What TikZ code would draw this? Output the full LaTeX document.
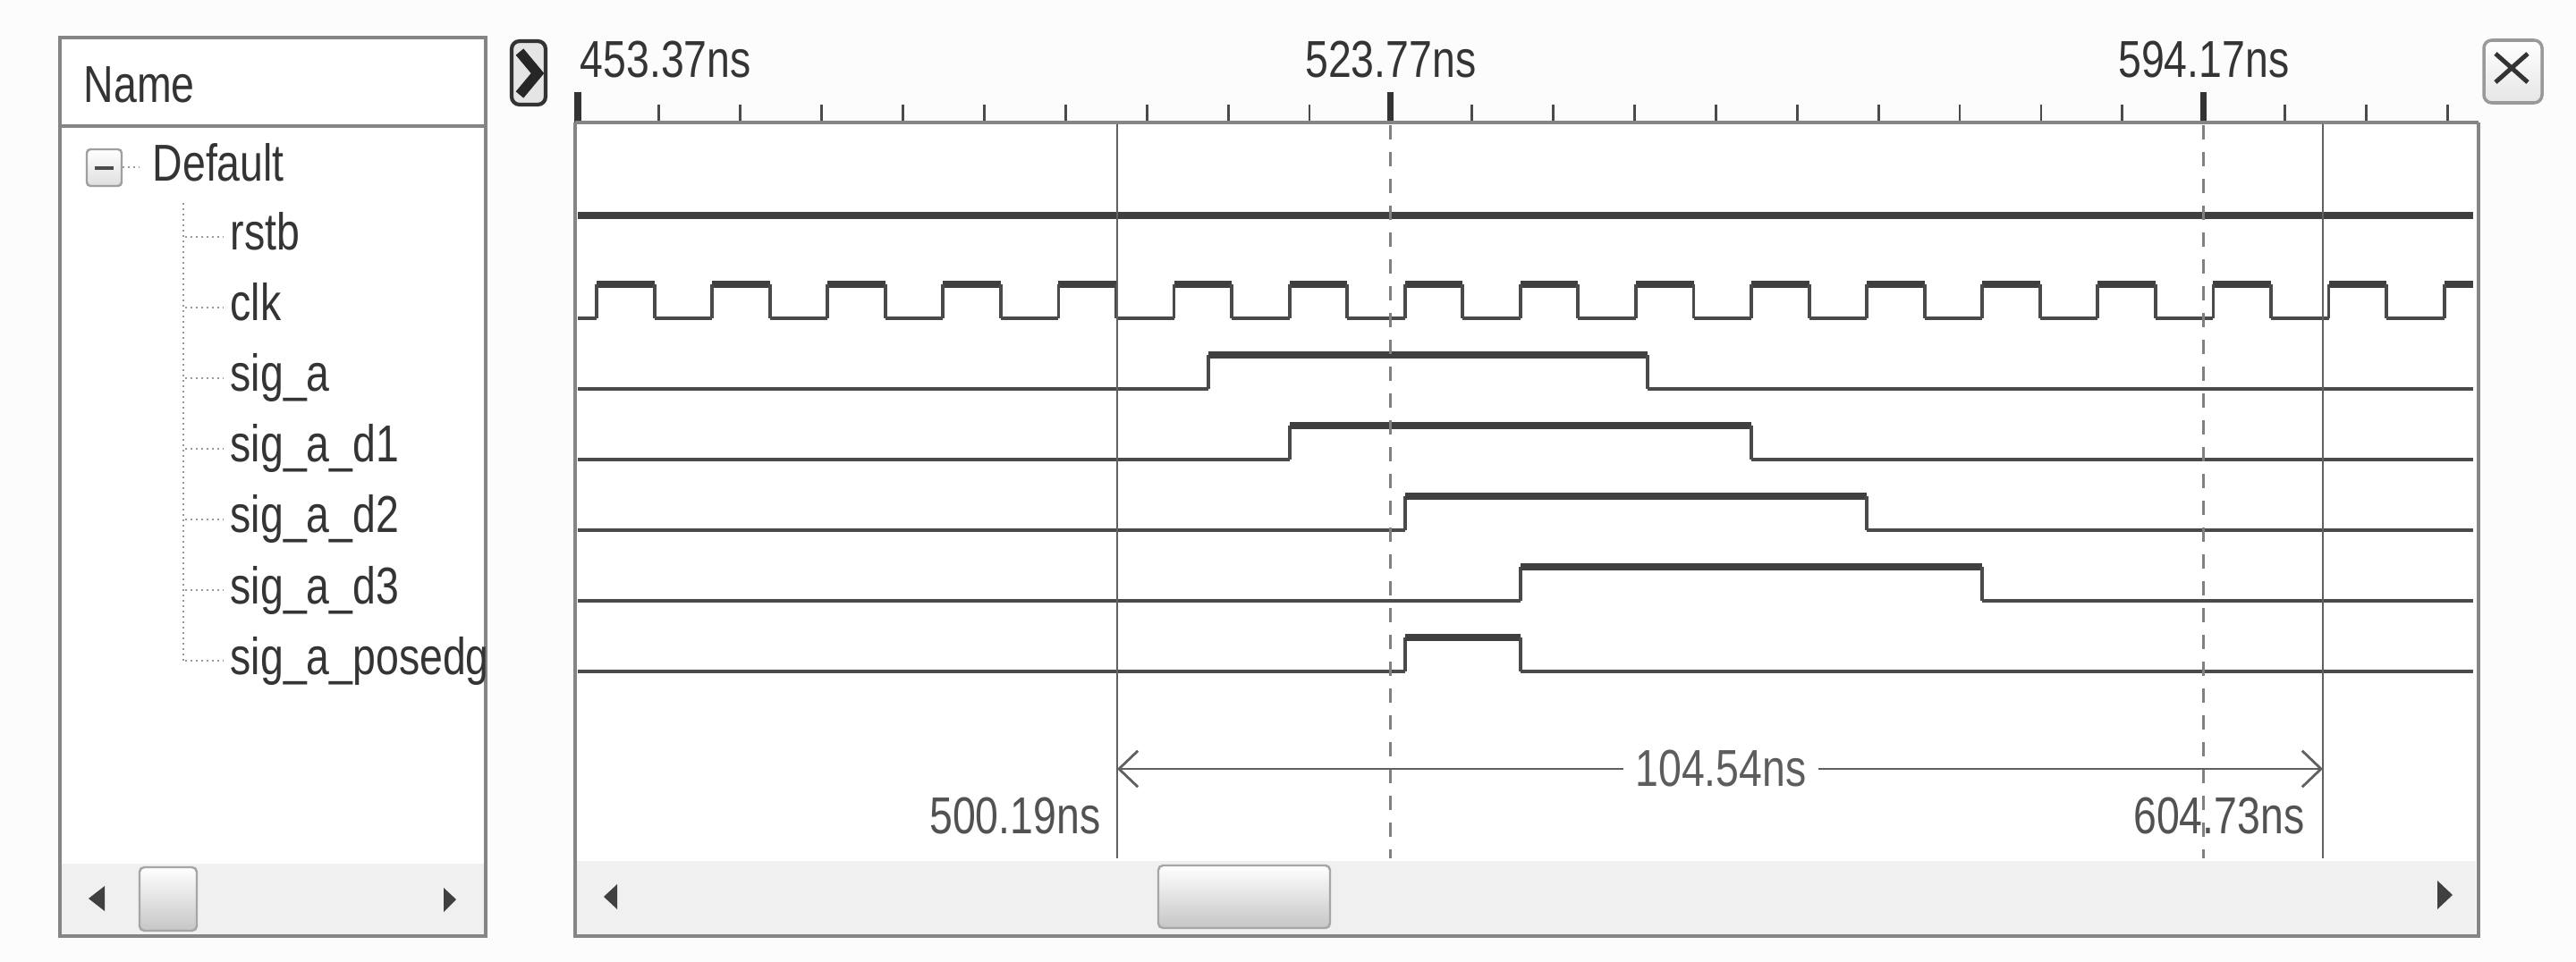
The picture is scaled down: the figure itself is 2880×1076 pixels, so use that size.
\documentclass[tikz,border=0pt]{standalone}
\usepackage{fontspec}
\setmainfont{Liberation Sans}[FakeStretch=0.8]
\usetikzlibrary{arrows.meta}
\definecolor{wavec}{HTML}{4A4A4A}
\definecolor{bordc}{HTML}{858585}
\definecolor{txtc}{HTML}{343434}
\definecolor{barc}{HTML}{F0F0F0}
\definecolor{curc}{HTML}{606060}
\newcommand{\tx}[1]{(646+12.91*((#1)-453.37))}
\newcommand{\wavepulse}[3]{%
  \draw[wlow] (646,#1) -- ({\tx{#2}},#1);
  \draw[wedge] ({\tx{#2}},#1) -- ({\tx{#2}},#1-38);
  \draw[whigh] ({\tx{#2}},#1-38) -- ({\tx{#3}},#1-38);
  \draw[wedge] ({\tx{#3}},#1-38) -- ({\tx{#3}},#1);
  \draw[wlow] ({\tx{#3}},#1) -- (2765,#1);}
\begin{document}
\begin{tikzpicture}[x=0.01cm,y=-0.01cm,
  lbl/.style={font=\fontsize{16.5pt}{19pt}\selectfont, text=txtc, inner sep=0pt},
  wlow/.style={draw=wavec, line width=1.1pt},
  whigh/.style={draw=wavec!85!black, line width=2.1pt},
  wedge/.style={draw=wavec, line width=1.1pt},
  bord/.style={draw=bordc, line width=0.9pt},
  tickmin/.style={draw=wavec, line width=0.8pt},
  tickmaj/.style={draw=black!80, line width=2pt},
  cursorl/.style={draw=curc, line width=0.8pt},
  dashl/.style={draw=curc!80, line width=0.8pt, dash pattern=on 0.16cm off 0.14cm},
  treedot/.style={draw=gray!80, line width=0.6pt, dash pattern=on 0.02cm off 0.04cm},
  meas/.style={draw=curc, line width=0.8pt},
  thumb/.style={draw=gray!70, line width=0.7pt, rounded corners=1.5pt, top color=white, bottom color=gray!45},
  sarrow/.style={fill=black!75, draw=none}]
\useasboundingbox (0,0) rectangle (2880,1076);
\fill[white!98!gray] (0,0) rectangle (2880,1076);

% ---------- name panel ----------
\fill[white] (67,42) rectangle (543,1047);
\fill[barc] (69,966) rectangle (541,1045);
\draw[bord] (67,42) rectangle (543,1047);
\draw[bord] (67,141) -- (543,141);
\node[lbl, anchor=base west] (hname) at (93,115) {Name};
% tree
\draw[draw=gray!75, line width=0.7pt, rounded corners=1.2pt, top color=white, bottom color=gray!25] (97,167) rectangle (136,208);
\draw[draw=black!70, line width=1pt] (106,188) -- (127,188);
\draw[treedot] (137,187) -- (156,187);
\node[lbl, anchor=base west] (ndef) at (170,203) {Default};
\draw[treedot] (205,227) -- (205,739);
\begin{scope}
\clip (69,42) rectangle (543,1047);
\foreach \nm/\bl in {rstb/280, clk/359, sig\_a/438, sig\_a\_d1/517, sig\_a\_d2/596, sig\_a\_d3/675, sig\_a\_posedge/754}{
  \draw[treedot] (207,\bl-15) -- (250,\bl-15);
  \node[lbl, anchor=base west] at (257,\bl) {\nm};
}
\end{scope}
% name scrollbar
\fill[sarrow] (99,1005) -- (117,991) -- (117,1019) -- cycle;
\draw[thumb] (156,970) rectangle (220,1041);
\fill[sarrow] (510,1006) -- (496,993) -- (496,1020) -- cycle;

% ---------- toolbar icons ----------
\draw[draw=black!80, line width=1.2pt, rounded corners=2.5pt, fill=gray!20] (572,46) rectangle (610,117);
\draw[black!85, line width=3.2pt, line join=miter] (581,58) -- (601,82) -- (581,106);
\draw[draw=gray!80, line width=1pt, rounded corners=2.5pt, top color=white, bottom color=gray!20] (2777,45) rectangle (2842,115);
\draw[black!80, line width=1.4pt] (2790,60) -- (2826,92) (2826,60) -- (2790,92);

% ---------- wave panel ----------
\fill[white] (643,137) rectangle (2770,1047);
\fill[barc] (645,963) rectangle (2768,1045);

% ruler
\foreach \k in {1,...,23} \draw[tickmin] ({\tx{453.37+7.04*\k}},137) -- ({\tx{453.37+7.04*\k}},117);
\foreach \t in {453.37,523.77,594.17} \draw[tickmaj] ({\tx{\t}},137) -- ({\tx{\t}},103);
\node[lbl, anchor=base west] (r1) at (648,87) {453.37ns};
\node[lbl, anchor=base] (r2) at ({\tx{523.77}},87) {523.77ns};
\node[lbl, anchor=base] (r3) at ({\tx{594.17}},87) {594.17ns};

% rstb
\draw[whigh] (646,241) -- (2765,241);
% clk
\draw[wlow] (646,356) -- ({\tx{455}},356);
\foreach \t in {460,470,...,610} \draw[wlow] ({\tx{\t}},356) -- ({\tx{\t+5}},356);
\foreach \t in {455,465,...,605} \draw[whigh] ({\tx{\t}},318) -- ({\tx{\t+5}},318);
\draw[whigh] ({\tx{615}},318) -- (2765,318);
\foreach \t in {455,460,...,615} \draw[wedge] ({\tx{\t}},318) -- ({\tx{\t}},356);
% pulses
\wavepulse{435}{508}{546}
\wavepulse{514}{515}{555}
\wavepulse{593}{525}{565}
\wavepulse{672}{535}{575}
\wavepulse{751}{525}{535}

% cursors
\coordinate (ca) at (1249,137);
\coordinate (cb) at (2597,137);
\draw[cursorl] (ca) -- (1249,960);
\draw[cursorl] (cb) -- (2597,960);
\draw[dashl] ({\tx{523.77}},140) -- ({\tx{523.77}},960);
\draw[dashl] ({\tx{594.17}},140) -- ({\tx{594.17}},960);

% measurement
\coordinate (m1) at (1249,860);
\coordinate (m2) at (2597,860);
\node[lbl, fill=white, inner xsep=3.5pt, inner ysep=2pt, text=txtc!80] (dt) at (1924,860) {104.54ns};
\draw[meas, {Straight Barb[length=6pt, width=11.5pt]}-] (m1) -- (dt.west);
\draw[meas, -{Straight Barb[length=6pt, width=11.5pt]}] (dt.east) -- (m2);
\node[lbl, anchor=base east, text=txtc!85] (ta) at (1231,932) {500.19ns};
\node[lbl, anchor=base east, text=txtc!85] (tb) at (2577,932) {604.73ns};

% wave scrollbar
\fill[sarrow] (675,1003) -- (690,989) -- (690,1017) -- cycle;
\draw[thumb] (1295,968) rectangle (1487,1038);
\fill[sarrow] (2742,1001) -- (2725,985) -- (2725,1017) -- cycle;

% borders
\draw[bord] (643,137) -- (2771,137);
\draw[bord] (643,137) -- (643,1047) -- (2771,1047) -- (2771,137);
\end{tikzpicture}
\end{document}
